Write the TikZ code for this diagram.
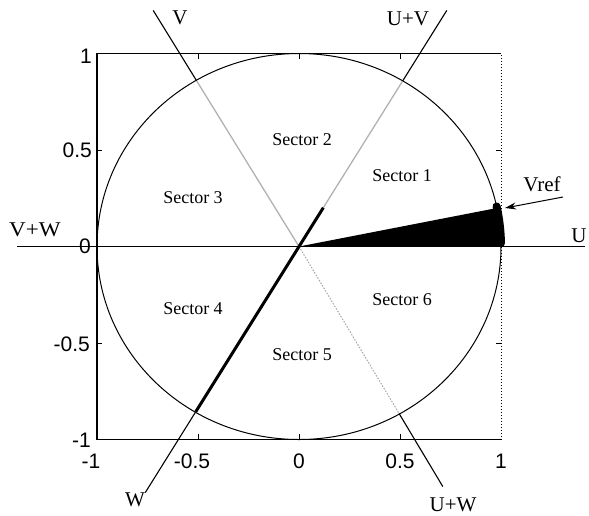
\documentclass[tikz,border=0pt]{standalone}
\usepackage{fontspec}
\setmainfont{Liberation Serif}
\newfontfamily\ticksf{Liberation Sans}
\usetikzlibrary{arrows.meta,calc}
\tikzset{
  blk/.style={draw=black,line width=1.1pt},
  graylin/.style={draw=gray!60,line width=1.3pt},
  graydot/.style={draw=gray!70,line width=1pt,dash pattern=on 1.5pt off 1.5pt},
  thickblk/.style={draw=black,line width=3pt},
  ticklab/.style={font=\ticksf\fontsize{21}{21}\selectfont,inner sep=0pt},
  lab/.style={font=\fontsize{21}{21}\selectfont,inner sep=0pt},
  seclab/.style={font=\fontsize{18}{18}\selectfont,inner sep=0pt},
}
\begin{document}
\begin{tikzpicture}[x=1pt,y=-1pt]
\useasboundingbox (0,0) rectangle (589,515);
\fill[white] (0,0) rectangle (589,515);
\begin{scope}[shift={(299,246.5)},xscale=202,yscale=-193]
  \coordinate (O) at (0,0);
  \coordinate (Vtop) at (-0.7228,1.2254);
  \coordinate (UWend) at (0.713,-1.246);
  \coordinate (UVtop) at (0.7327,1.2254);
  \coordinate (Wend) at (-0.762,-1.277);
  \coordinate (Uleft) at (-1.396,0);
  \coordinate (Uright) at (1.416,0);
  \coordinate (Vc) at ($(O)!0.7029!(Vtop)$);
  \coordinate (UWc) at ($(O)!0.6966!(UWend)$);
  \coordinate (UVc) at ($(O)!0.7004!(UVtop)$);
  \coordinate (UVk) at ($(O)!0.1646!(UVtop)$);
  \coordinate (Wc) at ($(O)!0.6725!(Wend)$);
  % box
  \draw[line width=1.1pt] (1,1) -- (-1,1) -- (-1,-1) -- (1,-1);
  \draw[line width=1pt,dotted] (1,-1) -- (1,1);
  % ticks
  \foreach \t in {-0.5,0,0.5} {
    \draw[line width=1pt] (\t,1) -- (\t,0.974);
    \draw[line width=1pt] (\t,-1) -- (\t,-0.974);
    \draw[line width=1pt] (-1,\t) -- (-0.975,\t);
    \draw[line width=1pt] (1,\t) -- (0.975,\t);
  }
  % circle
  \draw[line width=1pt] (O) circle[radius=1];
  % fan
  \fill[black] (O) -- (1,0) arc[start angle=0,end angle=11.5,radius=1] -- cycle;
  \draw[line width=8pt,line cap=round] (1:1) arc[start angle=1,end angle=12,radius=1];
  % U axis
  \draw[blk] (Uleft) -- (Uright);
  % V / U+W line
  \draw[blk] (Vtop) -- (Vc);
  \draw[graylin] (Vc) -- (O);
  \draw[graydot] (O) -- (UWc);
  \draw[blk] (UWc) -- (UWend);
  % U+V / W line
  \draw[blk] (UVtop) -- (UVc);
  \draw[graylin] (UVc) -- (UVk);
  \draw[thickblk] (UVk) -- (Wc);
  \draw[blk] (Wc) -- (Wend);
\end{scope}
% tick labels
\node[ticklab,anchor=east] (ly1) at (92,56) {1};
\node[ticklab,anchor=east] (ly2) at (92,150) {0.5};
\node[ticklab,anchor=east] (ly3) at (91,246) {0};
\node[ticklab,anchor=east] (ly4) at (90,344) {-0.5};
\node[ticklab,anchor=east] (ly5) at (91,440) {-1};
\node[ticklab] (lx1) at (91,461) {-1};
\node[ticklab] (lx2) at (192,461) {-0.5};
\node[ticklab] (lx3) at (299,461) {0};
\node[ticklab] (lx4) at (400,461) {0.5};
\node[ticklab] (lx5) at (501,461) {1};
% line labels
\node[lab] (lV) at (180,18) {V};
\node[lab] (lUV) at (408,19) {U+V};
\node[lab,xscale=1.1] (lVW) at (35,230) {V+W};
\node[lab] (lU) at (579,236) {U};
\node[lab] (lW) at (135,500) {W};
\node[lab] (lUW) at (453,505) {U+W};
\node[lab] (lVref) at (542,184) {Vref};
% sectors
\node[seclab] (s1) at (402,176) {Sector 1};
\node[seclab] (s2) at (302,140) {Sector 2};
\node[seclab] (s3) at (193,198) {Sector 3};
\node[seclab] (s4) at (193,309) {Sector 4};
\node[seclab] (s5) at (302,355) {Sector 5};
\node[seclab] (s6) at (402,300) {Sector 6};
% Vref arrow
\coordinate (arrS) at (563,197);
\coordinate (arrE) at (505,208);
\draw[line width=1pt,-{Stealth[length=11pt,width=7pt]}] (arrS) -- (arrE);
\end{tikzpicture}
\end{document}
